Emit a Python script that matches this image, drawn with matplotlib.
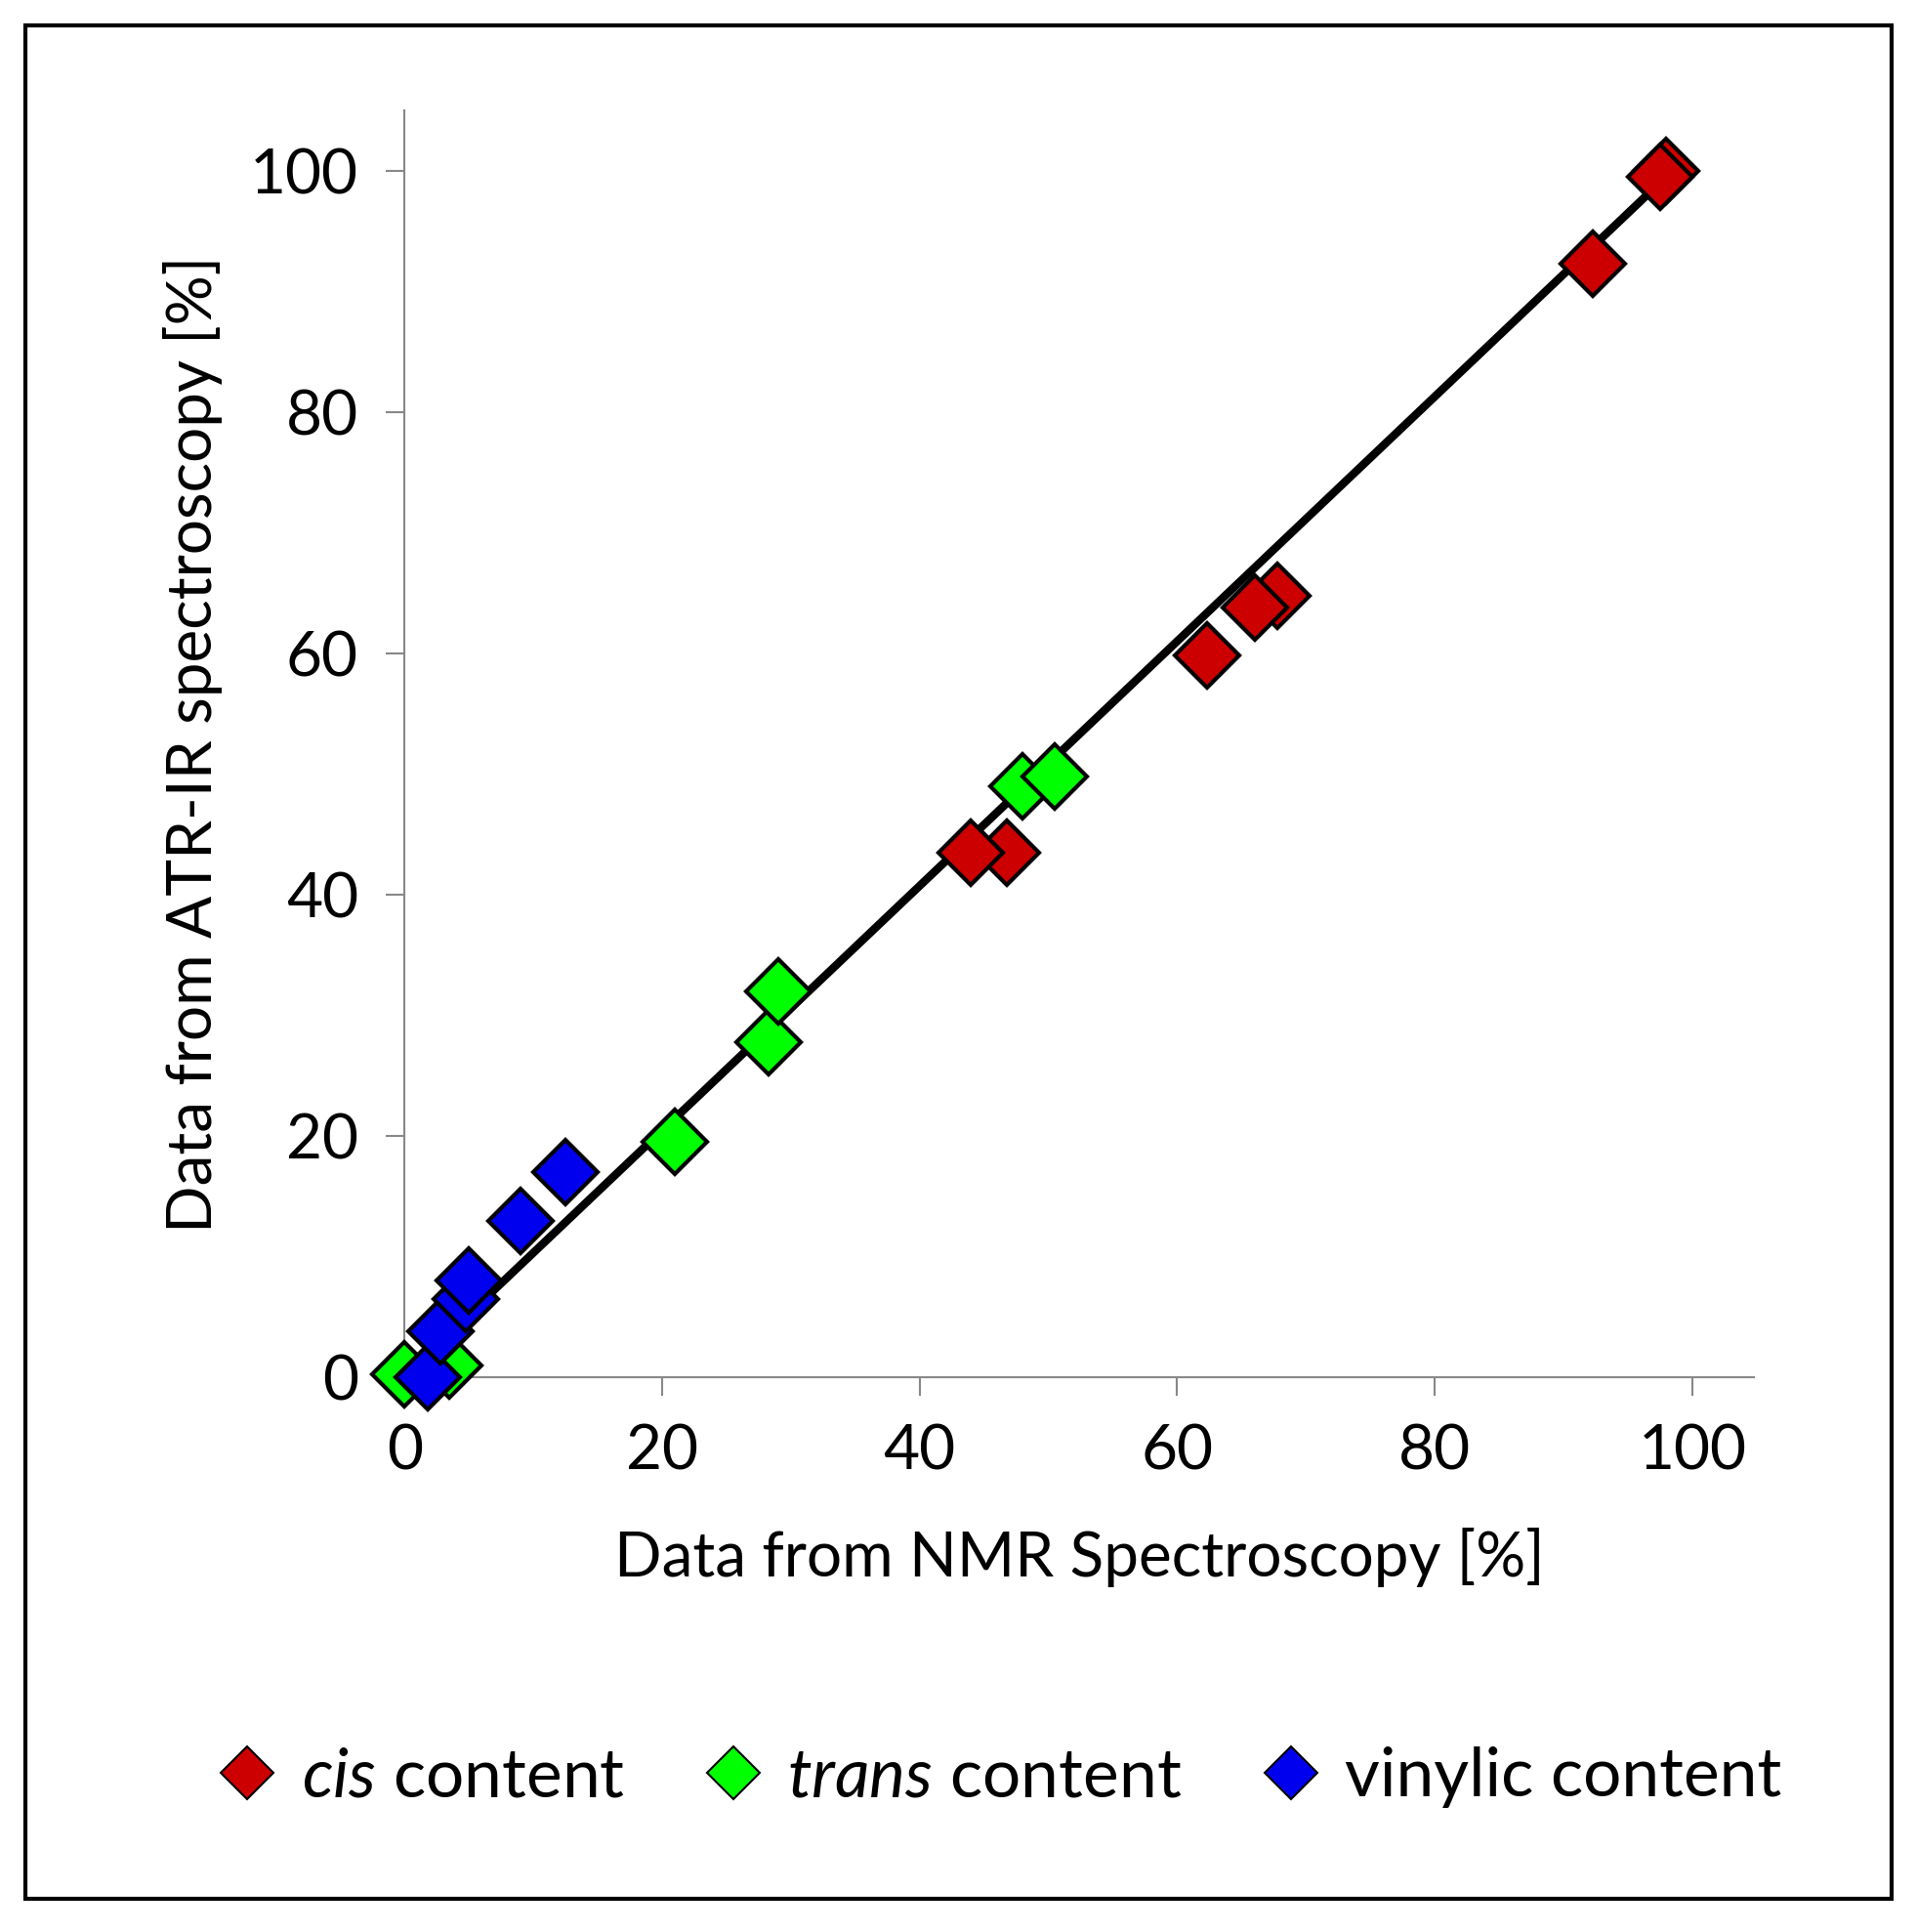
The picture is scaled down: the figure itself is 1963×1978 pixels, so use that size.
import matplotlib.pyplot as plt
from matplotlib.lines import Line2D
from matplotlib.patches import Rectangle

plt.rcParams['font.family'] = ['Lato', 'DejaVu Sans']
plt.rcParams['mathtext.fontset'] = 'custom'
plt.rcParams['mathtext.it'] = 'Lato:italic'
plt.rcParams['mathtext.rm'] = 'Lato'

# data
cis_x = [98, 97.5, 92.3, 67.8, 66, 62.3, 46.8, 44]
cis_y = [100, 99.5, 92.3, 64.8, 63.8, 59.8, 43.5, 43.5]
trans_x = [0, 3.5, 21, 28.3, 29, 48, 50.5]
trans_y = [0.3, 1, 19.5, 27.8, 32, 49, 49.8]
vinyl_x = [1.8, 2.8, 4.8, 5, 9, 12.5]
vinyl_y = [0, 3.8, 6.5, 8, 13, 17]
fit_x = [0.3, 98]
fit_y = [0.5, 99.5]
ticks = [0, 20, 40, 60, 80, 100]

fig = plt.figure(figsize=(19.63, 19.78), dpi=100)
fig.patches.append(Rectangle((0.013, 0.017), 0.974, 0.97, transform=fig.transFigure,
                             fill=False, edgecolor='black', linewidth=3))
ax = fig.add_axes([0.211, 0.287, 0.704, 0.656])

ax.plot(fit_x, fit_y, color='black', linewidth=6, zorder=2)
mk = dict(marker='D', markersize=34, markeredgecolor='black', markeredgewidth=3,
          linestyle='none', clip_on=False, zorder=3)
ax.plot(cis_x, cis_y, markerfacecolor='#cc0000', **mk)
ax.plot(trans_x, trans_y, markerfacecolor='#00ff00', **mk)
ax.plot(vinyl_x, vinyl_y, markerfacecolor='#0000ee', **mk)

ax.set_xlim(0, 104.8)
ax.set_ylim(0, 105)
ax.set_xticks(ticks)
ax.set_yticks(ticks)
ax.tick_params(labelsize=46, length=14, width=1.5, color='#888888', direction='out', pad=20)
for s in ['top', 'right']:
    ax.spines[s].set_visible(False)
for s in ['left', 'bottom']:
    ax.spines[s].set_color('#888888')
    ax.spines[s].set_linewidth(1.5)
ax.set_xlabel('Data from NMR Spectroscopy [%]', fontsize=46, labelpad=35)
ax.set_ylabel('Data from ATR-IR spectroscopy [%]', fontsize=46, labelpad=20)

handles = [Line2D([], [], marker='D', markersize=28, linestyle='none', markerfacecolor=c,
                  markeredgecolor='black', markeredgewidth=1.5) for c in ['#cc0000', '#00ff00', '#0000ee']]
labels = [r'$\it{cis}$ content', r'$\it{trans}$ content', 'vinylic content']
fig.legend(handles, labels, loc='center', bbox_to_anchor=(0.515, 0.08), ncol=3, frameon=False,
           fontsize=50, handletextpad=0.0, columnspacing=0.8, handlelength=1.6)

fig.savefig('out.png', dpi=100)
